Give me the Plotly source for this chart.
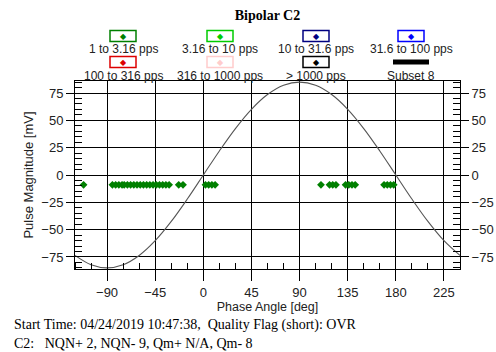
import plotly.graph_objects as go

# ---------------- data ----------------
pulse_phase = [-112, -85, -82, -79, -76, -74,
               -71, -68, -65, -62, -59, -56, -53, -50, -47, -44, -41, -38, -35, -32,
               -23, -19, 2, 5, 8, 11,
               110, 118, 121, 124, 133, 136, 139, 142, 169, 172, 175, 178]
pulse_mag = [-9] * len(pulse_phase)

ref_phase = [-120, -105, -90, -75, -60, -45, -30, -15, 0, 15, 30, 45, 60, 75, 90,
             105, 120, 135, 150, 165, 180, 195, 210, 225, 240]
ref_mag = [-73.6, -82.1, -85, -82.1, -73.6, -60.1, -42.5, -22.0, 0, 22.0, 42.5, 60.1,
           73.6, 82.1, 85, 82.1, 73.6, 60.1, 42.5, 22.0, 0, -22.0, -42.5, -60.1, -73.6]

legend_labels = ["1 to 3.16 pps", "3.16 to 10 pps", "10 to 31.6 pps", "31.6 to 100 pps",
                 "100 to 316 pps", "316 to 1000 pps", "> 1000 pps", "Subset 8"]
legend_colors = ["#008000", "#00cc00", "#000080", "#0000ff",
                 "#dd0000", "#ffcccc", "#000000", "#000000"]

x_ticks = [-90, -45, 0, 45, 90, 135, 180, 225]
y_ticks = [-75, -50, -25, 0, 25, 50, 75]

footer_lines = ["Start Time: 04/24/2019 10:47:38,  Quality Flag (short): OVR",
                "C2:   NQN+ 2, NQN- 9, Qm+ N/A, Qm- 8"]

# ---------------- layout geometry ----------------
W, H = 496, 352
ML, MR, MT, MB = 75, 36, 81, 83
PW, PH = W - ML - MR, H - MT - MB


def px(x):
    return (x - ML) / PW


def py(y):
    return (H - MB - y) / PH


SANS = "Liberation Sans, Arial, sans-serif"
SERIF = "Liberation Serif, Times New Roman, serif"

fig = go.Figure()
fig.add_trace(go.Scatter(x=ref_phase, y=ref_mag, mode="lines",
                         line=dict(color="#555555", width=1.1, shape="spline"),
                         showlegend=False, hoverinfo="skip"))
fig.add_trace(go.Scatter(x=pulse_phase, y=pulse_mag, mode="markers",
                         marker=dict(symbol="diamond", size=6, color=legend_colors[0]),
                         showlegend=False))
# trace bound to the right-hand axis so that it is drawn
fig.add_trace(go.Scatter(x=[None], y=[None], yaxis="y2", mode="markers",
                         showlegend=False, hoverinfo="skip"))

shapes = []
annotations = []
col_centers = [123, 220, 316, 411]
row_box_y = [36, 62]
row_label_y = [49, 76]
for i, (lab, col) in enumerate(zip(legend_labels, legend_colors)):
    r, c = divmod(i, 4)
    cx = col_centers[c]
    by = row_box_y[r]
    if lab == "Subset 8":
        shapes.append(dict(type="rect", xref="paper", yref="paper",
                           x0=px(cx - 18), x1=px(cx + 18), y0=py(by - 2.5), y1=py(by + 2.5),
                           line=dict(width=0), fillcolor=col))
    else:
        shapes.append(dict(type="rect", xref="paper", yref="paper",
                           x0=px(cx - 13), x1=px(cx + 13), y0=py(by - 5.5), y1=py(by + 5.5),
                           line=dict(color=col, width=1.5), fillcolor="rgba(0,0,0,0)"))
        annotations.append(dict(text="◆", xref="paper", yref="paper", x=px(cx), y=py(by),
                                showarrow=False, xanchor="center", yanchor="middle",
                                font=dict(family="DejaVu Sans", size=8, color=col)))
    annotations.append(dict(text=lab, xref="paper", yref="paper", x=px(cx), y=py(row_label_y[r]),
                            showarrow=False, xanchor="center", yanchor="middle",
                            font=dict(family=SANS, size=12, color="#222")))

for k, line in enumerate(footer_lines):
    annotations.append(dict(text=line, xref="paper", yref="paper", x=px(12), y=py(325 + 18 * k),
                            showarrow=False, xanchor="left", yanchor="middle",
                            font=dict(family=SERIF, size=14, color="black")))

axis_common = dict(showline=True, linecolor="black", linewidth=1, ticks="outside",
                   tickcolor="black", zeroline=False, automargin=False,
                   tickfont=dict(family=SANS, size=13, color="#222"))

fig.update_layout(
    width=W, height=H, margin=dict(l=ML, r=MR, t=MT, b=MB),
    paper_bgcolor="white", plot_bgcolor="white",
    title=dict(text="<b>Bipolar C2</b>", x=0.5, xref="paper", xanchor="center",
               y=1 - 15 / H, yanchor="middle",
               font=dict(family=SERIF, size=14, color="black")),
    xaxis=dict(range=[-120, 240], tickvals=x_ticks, ticklen=11, mirror=True,
               showgrid=True, gridcolor="black", gridwidth=1,
               title=dict(text="Phase Angle [deg]", standoff=3,
                          font=dict(family=SANS, size=12.5, color="#222")),
               minor=dict(ticks="inside", dtick=15, tick0=0, ticklen=6, tickcolor="black",
                          showgrid=False),
               **axis_common),
    yaxis=dict(range=[-86, 86], tickvals=y_ticks, ticklen=8, mirror=True,
               showgrid=True, gridcolor="black", gridwidth=1,
               title=dict(text="Pulse Magnitude [mV]", standoff=4,
                          font=dict(family=SANS, size=13, color="#222")),
               minor=dict(ticks="inside", dtick=5, tick0=0, ticklen=7, tickcolor="black",
                          showgrid=False),
               **axis_common),
    yaxis2=dict(range=[-86, 86], tickvals=y_ticks, ticklen=8, overlaying="y", side="right",
                anchor="x", showgrid=False,
                minor=dict(ticks="inside", dtick=5, tick0=0, ticklen=7, tickcolor="black",
                           showgrid=False),
                **axis_common),
    shapes=shapes, annotations=annotations, showlegend=False,
)

fig.write_html("out.html")
